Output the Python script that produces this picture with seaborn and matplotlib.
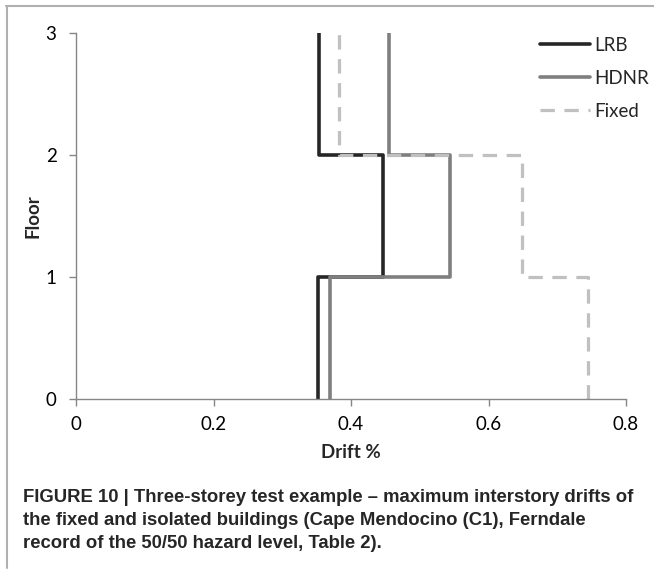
import numpy as np
import pandas as pd
import matplotlib
matplotlib.use("Agg")
import matplotlib.pyplot as plt
from matplotlib.lines import Line2D
import seaborn as sns

# Maximum interstory drift (%) for storeys 1..3 (floor 0-1, 1-2, 2-3)
floors = [0, 1, 2, 3]
lrb_drift = [0.352, 0.447, 0.353]
hdnr_drift = [0.369, 0.544, 0.455]
fixed_drift = [0.745, 0.648, 0.383]
series_names = ["LRB", "HDNR", "Fixed"]
x_ticks = [0, 0.2, 0.4, 0.6, 0.8]
y_ticks = [0, 1, 2, 3]

sns.set_theme(style="white")
plt.rcParams["font.family"] = ["Lato", "DejaVu Sans"]


def storey_profile(drifts, name):
    # Each storey drift holds constant between its lower and upper floor
    xs = np.repeat(drifts, 2)
    ys = np.array([[floors[i], floors[i + 1]] for i in range(len(drifts))]).ravel()
    return pd.DataFrame({"Drift": xs, "Floor": ys, "Series": name})


df = pd.concat([
    storey_profile(lrb_drift, series_names[0]),
    storey_profile(hdnr_drift, series_names[1]),
    storey_profile(fixed_drift, series_names[2]),
], ignore_index=True)

fig = plt.figure(figsize=(6.54, 5.73), dpi=100)
ax = fig.add_axes([76 / 654, 1 - 399 / 573, (626 - 76) / 654, (399 - 33) / 573])

palette = {"LRB": "#262626", "HDNR": "#7f7f7f", "Fixed": "#c0c0c0"}
sns.lineplot(data=df, x="Drift", y="Floor", hue="Series", sort=False,
             estimator=None, units="Series", palette=palette, ax=ax,
             linewidth=2.6, legend=False)
ax.lines[2].set_dashes([4.5, 3])
ax.lines[2].set_linewidth(2.3)

fs = 13.5
ax.set_xlim(0, 0.8)
ax.set_ylim(0, 3)
ax.set_xticks(x_ticks)
ax.set_xticklabels([f"{v:g}" for v in x_ticks])
ax.set_yticks(y_ticks)
ax.set_yticklabels([str(v) for v in y_ticks])
ax.tick_params(axis="both", which="major", labelsize=fs, colors="#868686",
               labelcolor="black", length=5, width=1, direction="out",
               bottom=True, left=True)
ax.tick_params(axis="y", pad=9)
ax.tick_params(axis="x", pad=7)
for side in ["top", "right"]:
    ax.spines[side].set_visible(False)
for side in ["left", "bottom"]:
    ax.spines[side].set_color("#868686")
    ax.spines[side].set_linewidth(1)

ax.set_xlabel("Drift %", fontsize=fs, fontweight="bold", labelpad=8)
ax.set_ylabel("Floor", fontsize=fs, fontweight="bold", labelpad=3)

handles = [Line2D([], [], color=palette["LRB"], lw=2.6),
           Line2D([], [], color=palette["HDNR"], lw=2.6),
           Line2D([], [], color=palette["Fixed"], lw=2.3, dashes=[4.5, 3])]
ax.legend(handles, series_names, loc="upper left",
          bbox_to_anchor=(540 / 654, 1 - 37 / 573), bbox_transform=fig.transFigure,
          frameon=False, fontsize=fs, handlelength=2.67, handletextpad=0.2,
          labelspacing=0.85, borderpad=0, borderaxespad=0)

# Caption beneath the chart
caption = ("FIGURE 10 | Three-storey test example \u2013 maximum interstory drifts of\n"
           "the fixed and isolated buildings (Cape Mendocino (C1), Ferndale\n"
           "record of the 50/50 hazard level, Table 2).")
fig.text(23 / 654, 1 - 489 / 573, caption, ha="left", va="top",
         fontsize=13.3, fontweight="bold", family=["Liberation Sans", "DejaVu Sans"],
         linespacing=1.48)

# Frame rules along the top and left edges
fig.add_artist(Line2D([6 / 654, 1], [1 - 5.5 / 573, 1 - 5.5 / 573],
                      transform=fig.transFigure, color="#b0b0b0", lw=1.5))
fig.add_artist(Line2D([6.5 / 654, 6.5 / 654], [1 - 5.5 / 573, 1 - 568 / 573],
                      transform=fig.transFigure, color="#b0b0b0", lw=1.5))

fig.savefig("out.png", dpi=100)
